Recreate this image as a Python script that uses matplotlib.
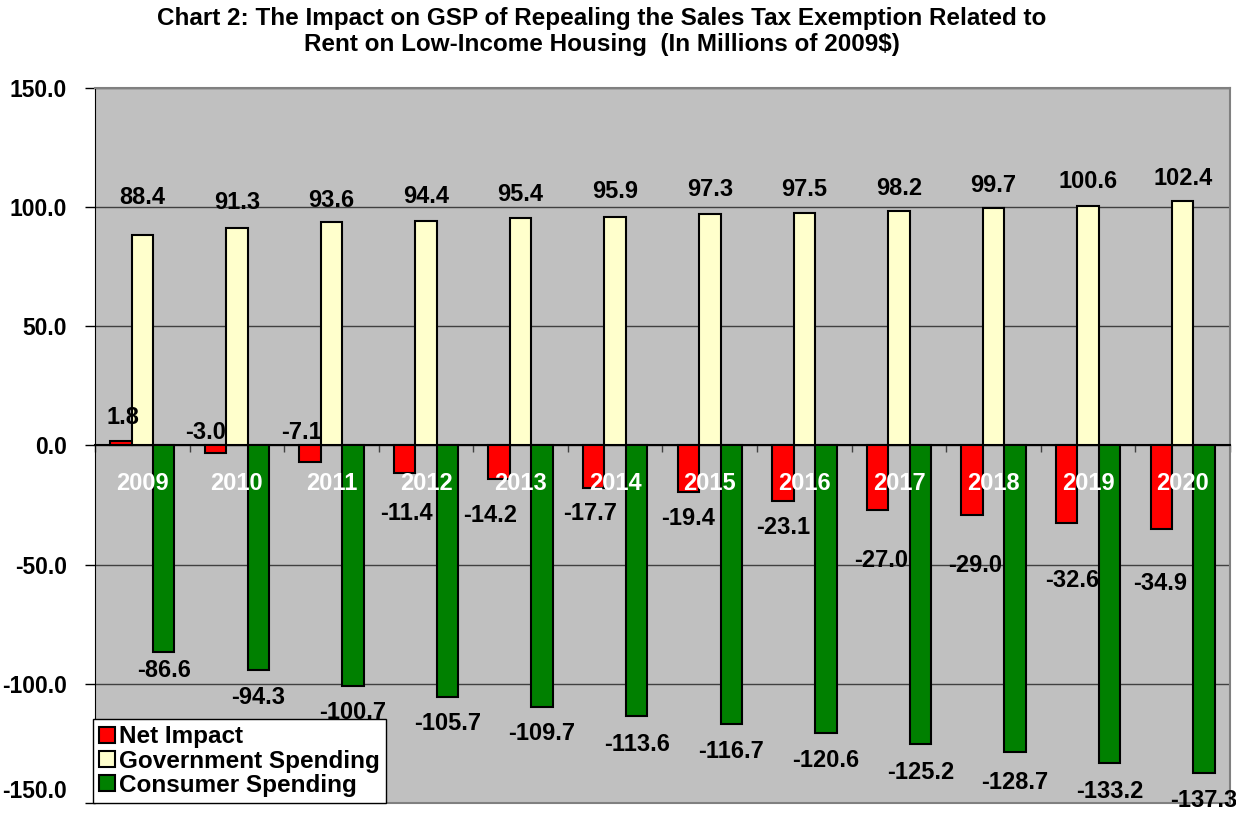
import numpy as np
import matplotlib.pyplot as plt

plt.rcParams['font.family'] = ['Liberation Sans', 'DejaVu Sans']
plt.rcParams['font.weight'] = 'bold'

years = [str(y) for y in range(2009, 2021)]
net_impact = [1.8, -3.0, -7.1, -11.4, -14.2, -17.7, -19.4, -23.1, -27.0, -29.0, -32.6, -34.9]
gov_spending = [88.4, 91.3, 93.6, 94.4, 95.4, 95.9, 97.3, 97.5, 98.2, 99.7, 100.6, 102.4]
consumer_spending = [-86.6, -94.3, -100.7, -105.7, -109.7, -113.6, -116.7, -120.6,
                     -125.2, -128.7, -133.2, -137.3]

# hand nudges for the value labels, in pixels from the bar end
net_dx = [2, -10, -8, 2, -9, -4, 0, 0, 4, 3, 6, -1]
net_dy = [24, 20, 30, -41, -36, -26, -27, -27, -51, -51, -57, -55]
gov_dy = [37, 25, 22, 24, 24, 25, 24, 24, 23, 22, 24, 23]
con_dy = [-19, -27, -27, -26, -27, -28, -28, -28, -29, -30, -29, -28]

x = np.arange(len(years))
w = 0.227

fig = plt.figure(figsize=(12.36, 8.13), dpi=100)
ax = fig.add_axes([95 / 1236, 1 - 803 / 813, 1135 / 1236, 715 / 813])
ax.set_facecolor('#C0C0C0')

bar_kw = dict(width=w, edgecolor='black', linewidth=1.5, zorder=3)
ax.bar(x - w, net_impact, color='#FF0000', label='Net Impact', **bar_kw)
ax.bar(x, gov_spending, color='#FFFFCC', label='Government Spending', **bar_kw)
ax.bar(x + w, consumer_spending, color='#008000', label='Consumer Spending', **bar_kw)

lbl = dict(textcoords='offset pixels', ha='center', va='center',
           fontsize=17, fontweight='bold', zorder=5)
for i in range(len(years)):
    ax.annotate(f"{net_impact[i]:.1f}", (x[i] - w, net_impact[i]),
                xytext=(net_dx[i], net_dy[i]), **lbl)
    ax.annotate(f"{gov_spending[i]:.1f}", (x[i], gov_spending[i]),
                xytext=(0, gov_dy[i]), **lbl)
    ax.annotate(f"{consumer_spending[i]:.1f}", (x[i] + w, consumer_spending[i]),
                xytext=(0, con_dy[i]), **lbl)
    # year labels sit just under the zero line, in white
    ax.annotate(years[i], (x[i], 0), xytext=(0, -38), textcoords='offset pixels',
                ha='center', va='center', color='white', fontsize=17,
                fontweight='bold', zorder=6)

ax.set_xlim(-0.5, len(years) - 0.5)
ax.set_ylim(-150, 150)
yt = np.arange(-150, 151, 50)
ax.set_yticks(yt)
ax.set_yticklabels([f"{v:.1f}" for v in yt], fontsize=16.5, fontweight='bold')
ax.tick_params(axis='y', length=7, width=1, pad=13, direction='out')
ax.yaxis.grid(True, color='#404040', linewidth=1)
ax.set_axisbelow(True)
# keep the lowest tick label inside the canvas
ax.get_yticklabels()[0].set_verticalalignment('bottom')

# category axis runs along zero, with ticks between the years
ax.spines['bottom'].set_position(('data', 0))
ax.spines['bottom'].set_color('black')
ax.spines['bottom'].set_linewidth(1.5)
ax.set_xticks(np.arange(-0.5, len(years), 1))
ax.set_xticklabels([])
ax.tick_params(axis='x', length=5, width=1, direction='out', color='#404040')
ax.spines['left'].set_color('black')
for side in ('top', 'right'):
    ax.spines[side].set_color('#808080')
    ax.spines[side].set_linewidth(1.5)
ax.axhline(-150, color='#808080', linewidth=1.5, clip_on=False, zorder=4)

leg = ax.legend(loc='lower left', bbox_to_anchor=(-0.002, 0.0), borderaxespad=0,
                fancybox=False, framealpha=1, edgecolor='black',
                prop={'size': 17.5, 'weight': 'bold'},
                handlelength=0.65, handleheight=0.65, handletextpad=0.2,
                labelspacing=0.05, borderpad=0.25)
leg.get_frame().set_linewidth(1)
leg.set_zorder(10)

fig.text(0.487, 0.992,
         "Chart 2: The Impact on GSP of Repealing the Sales Tax Exemption Related to\n"
         "Rent on Low-Income Housing  (In Millions of 2009$)",
         ha='center', va='top', fontsize=17.5, fontweight='bold', linespacing=1.2)

fig.savefig('out.png', dpi=100)
